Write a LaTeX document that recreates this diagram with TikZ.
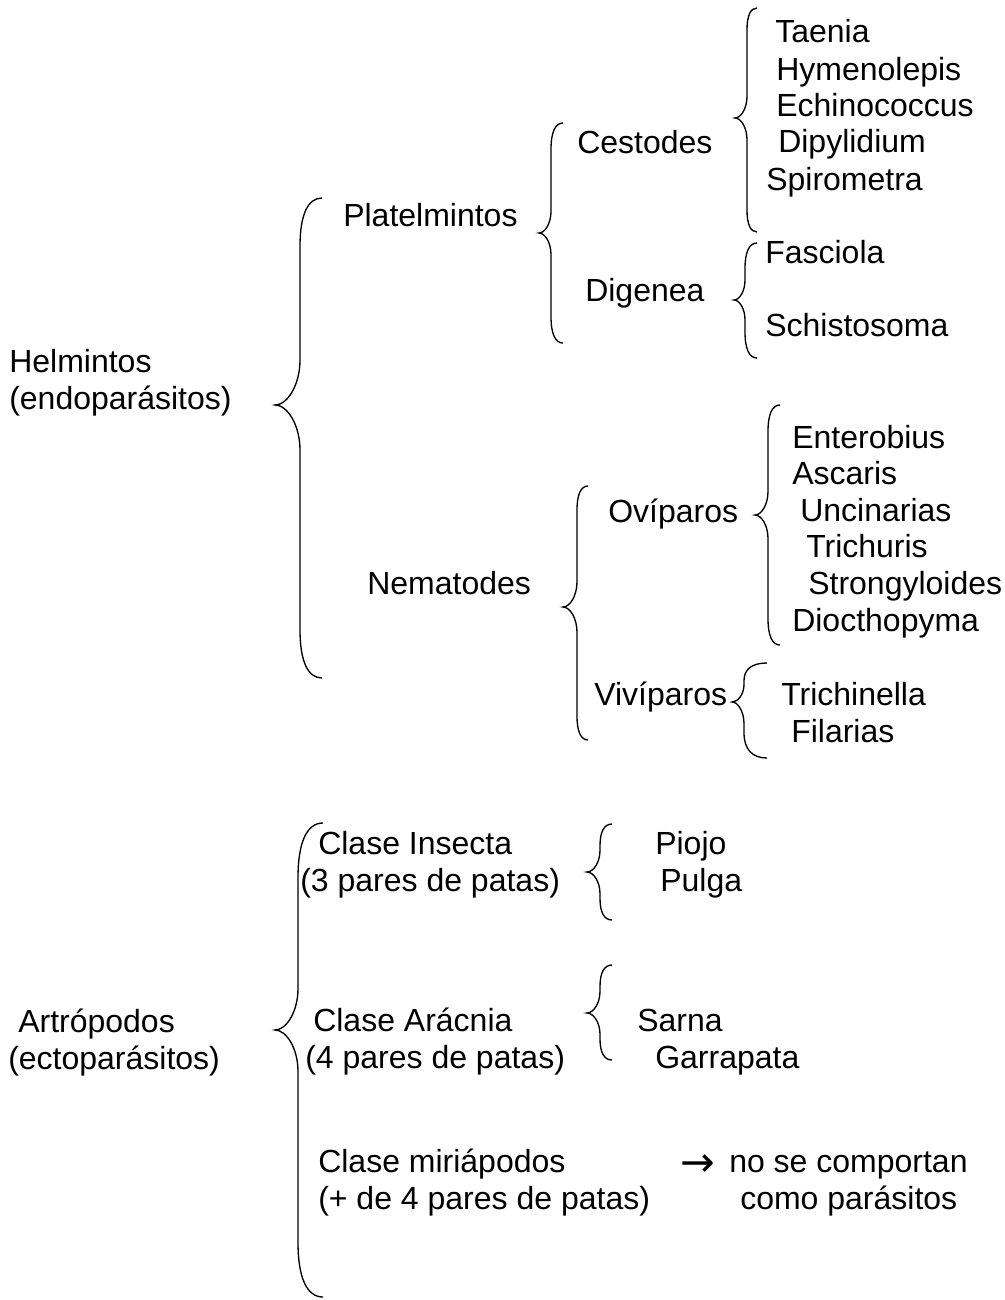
\documentclass[tikz,border=0pt]{standalone}
\usepackage{fontspec}
\setmainfont{Liberation Sans}
\newfontfamily\symfont{DejaVu Sans}
\tikzset{
  txt/.style={anchor=base west, inner sep=0pt, font=\fontsize{24}{28}\selectfont},
  bracelines/.style={draw=black, line width=1pt}
}
% brace: #1 end x, #2 top y, #3 vertical x, #4 middle y, #5 point x, #6 bottom y
\newcommand{\mybrace}[6]{%
  \pgfmathsetmacro\brW{#1-#3}%
  \pgfmathsetmacro\brD{#3-#5}%
  \pgfmathsetmacro\brA{min(2.2*\brW,0.45*(#4-#2))}%
  \pgfmathsetmacro\brB{min(1.8*\brD,0.45*(#4-#2))}%
  \pgfmathsetmacro\brC{min(2.2*\brW,0.45*(#6-#4))}%
  \pgfmathsetmacro\brE{min(1.8*\brD,0.45*(#6-#4))}%
  \path[bracelines] (#1,#2) .. controls ({#3+0.35*\brW},#2) and (#3,{#2+0.35*\brA}) .. (#3,{#2+\brA})
    -- (#3,{#4-\brB}) .. controls (#3,{#4-0.45*\brB}) and ({#5+0.5*\brD},#4) .. (#5,#4)
    .. controls ({#5+0.5*\brD},#4) and (#3,{#4+0.45*\brE}) .. (#3,{#4+\brE})
    -- (#3,{#6-\brC}) .. controls (#3,{#6-0.35*\brC}) and ({#3+0.35*\brW},#6) .. (#1,#6);}
\begin{document}
\begin{tikzpicture}[x=0.75pt,y=-0.75pt]
\useasboundingbox[fill=white] (0,0) rectangle (1005,1300);
% Helmintos
\node[txt] (helm) at (9,372) {Helmintos};
\node[txt] (endo) at (9,409) {(endoparásitos)};
\mybrace{322}{198}{300}{405}{275}{678}
\node[txt] (plat) at (343,226) {Platelmintos};
\mybrace{563}{123}{551}{233}{539}{343}
\node[txt] (cest) at (577,153) {Cestodes};
\node[txt] (dig) at (585,301) {Digenea};
\mybrace{757}{8}{747}{118}{735}{232}
\node[txt] (taenia) at (775,42) {Taenia};
\node[txt] (hymen) at (776,80) {Hymenolepis};
\node[txt] (echino) at (776,116) {Echinococcus};
\node[txt] (dipy) at (778,152) {Dipylidium};
\node[txt] (spiro) at (766,190) {Spirometra};
\mybrace{757}{243}{745}{300}{734}{358}
\node[txt] (fasc) at (765,263) {Fasciola};
\node[txt] (schis) at (765,336) {Schistosoma};
\node[txt] (nema) at (367,594) {Nematodes};
\mybrace{588}{486}{577}{607}{563}{740}
\node[txt] (ovip) at (608,522) {Ovíparos};
\node[txt] (vivip) at (594,705) {Vivíparos};
\mybrace{780}{405}{768}{515}{755}{645}
\node[txt] (entero) at (792,448) {Enterobius};
\node[txt] (asc) at (792,484) {Ascaris};
\node[txt] (unci) at (800,521) {Uncinarias};
\node[txt] (trichu) at (806,557) {Trichuris};
\node[txt] (strong) at (808,594) {Strongyloides};
\node[txt] (dioc) at (792,631) {Diocthopyma};
\mybrace{767}{663}{744}{702}{732}{758}
\node[txt] (trichi) at (781,705) {Trichinella};
\node[txt] (filar) at (791,742) {Filarias};
% Artropodos
\node[txt] (artro) at (18,1032) {Artrópodos};
\node[txt] (ecto) at (8,1069) {(ectoparásitos)};
\mybrace{323}{823}{298}{1030}{275}{1297}
\node[txt] (insecta) at (318,854) {Clase Insecta};
\node[txt] (pares3) at (300,891) {(3 pares de patas)};
\mybrace{612}{824}{600}{872}{587}{920}
\node[txt] (piojo) at (655,854) {Piojo};
\node[txt] (pulga) at (660,891) {Pulga};
\node[txt] (aracnia) at (313,1031) {Clase Arácnia};
\node[txt] (pares4) at (305,1068) {(4 pares de patas)};
\mybrace{612}{965}{600}{1013}{587}{1060}
\node[txt] (sarna) at (637,1031) {Sarna};
\node[txt] (garra) at (655,1068) {Garrapata};
\node[txt] (miria) at (318,1172) {Clase miriápodos};
\node[txt] (pares5) at (318,1209) {(+ de 4 pares de patas)};
\node[txt, font=\symfont\fontsize{31}{34}\selectfont] (arrow) at (680,1176) {→};
\node[txt] (nose) at (729,1172) {no se comportan};
\node[txt] (como) at (740,1209) {como parásitos};
\end{tikzpicture}
\end{document}
